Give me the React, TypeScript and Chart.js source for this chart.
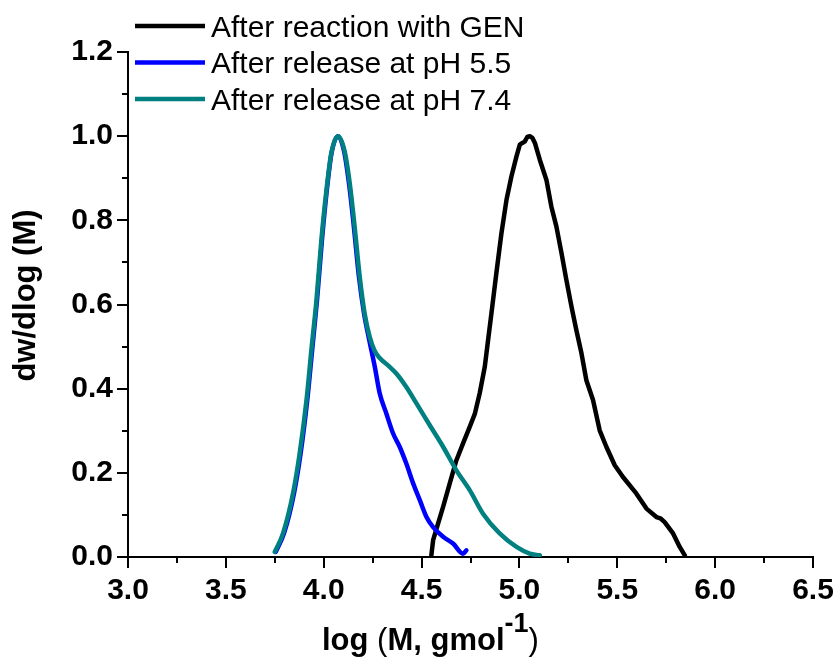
import React, { useEffect, useRef } from 'react';
import { Chart, registerables } from 'chart.js';

Chart.register(...registerables);

const FONT = "'Liberation Sans', Arial, Helvetica, sans-serif";

const seriesLabels = ['After reaction with GEN', 'After release at pH 5.5', 'After release at pH 7.4'];
const seriesColors = ['#000000', '#0000ff', '#008080'];

const xTickValues = [3.0, 3.5, 4.0, 4.5, 5.0, 5.5, 6.0, 6.5];
const yTickValues = [0.0, 0.2, 0.4, 0.6, 0.8, 1.0, 1.2];

const genX = [4.550, 4.559, 4.584, 4.610, 4.644, 4.678, 4.712, 4.746, 4.772, 4.797, 4.823, 4.840, 4.857, 4.882, 4.908, 4.934, 4.959, 4.985, 5.002, 5.015, 5.027, 5.040, 5.053, 5.066, 5.079, 5.104, 5.138, 5.163, 5.189, 5.215, 5.240, 5.266, 5.291, 5.317, 5.342, 5.376, 5.410, 5.444, 5.487, 5.529, 5.597, 5.649, 5.700, 5.720, 5.742, 5.785, 5.819, 5.845];
const genY = [0.004, 0.040, 0.079, 0.119, 0.175, 0.230, 0.270, 0.309, 0.340, 0.389, 0.452, 0.516, 0.579, 0.674, 0.769, 0.849, 0.904, 0.952, 0.980, 0.984, 0.987, 0.998, 1.000, 0.996, 0.984, 0.944, 0.896, 0.833, 0.785, 0.722, 0.658, 0.595, 0.539, 0.484, 0.420, 0.373, 0.301, 0.262, 0.218, 0.190, 0.151, 0.115, 0.095, 0.092, 0.083, 0.056, 0.024, 0.004];

const ph55X = [3.755, 3.797, 3.848, 3.882, 3.916, 3.941, 3.966, 3.991, 4.016, 4.040, 4.073, 4.104, 4.129, 4.154, 4.180, 4.206, 4.233, 4.261, 4.286, 4.320, 4.354, 4.388, 4.422, 4.457, 4.491, 4.525, 4.559, 4.610, 4.661, 4.712, 4.729];
const ph55Y = [0.012, 0.056, 0.151, 0.246, 0.373, 0.492, 0.611, 0.753, 0.872, 0.960, 1.000, 0.964, 0.888, 0.785, 0.666, 0.579, 0.515, 0.452, 0.389, 0.341, 0.294, 0.262, 0.222, 0.175, 0.135, 0.095, 0.071, 0.048, 0.032, 0.008, 0.016];

const ph74X = [3.750, 3.792, 3.843, 3.877, 3.912, 3.937, 3.963, 3.988, 4.014, 4.039, 4.073, 4.107, 4.133, 4.158, 4.184, 4.209, 4.235, 4.260, 4.286, 4.330, 4.371, 4.422, 4.474, 4.542, 4.610, 4.678, 4.746, 4.814, 4.899, 4.985, 5.053, 5.104];
const ph74Y = [0.012, 0.056, 0.151, 0.246, 0.373, 0.492, 0.611, 0.753, 0.872, 0.960, 1.000, 0.964, 0.888, 0.785, 0.666, 0.579, 0.523, 0.490, 0.473, 0.455, 0.436, 0.404, 0.365, 0.313, 0.262, 0.206, 0.159, 0.103, 0.056, 0.024, 0.008, 0.004];

const yTitle = 'dw/dlog (M)';

const toPoints = (xs: number[], ys: number[]) => xs.map((x, i) => ({ x, y: ys[i] }));

const decorPlugin = {
  id: 'decor',
  afterDraw(chart: any) {
    const ctx = chart.ctx as CanvasRenderingContext2D;
    const xs = chart.scales.x;
    const ys = chart.scales.y;
    const area = chart.chartArea;
    ctx.save();
    // minor ticks
    ctx.strokeStyle = '#000';
    ctx.lineWidth = 2;
    ctx.beginPath();
    for (let i = 0; i < xTickValues.length - 1; i++) {
      const v = (xTickValues[i] + xTickValues[i + 1]) / 2;
      const px = Math.round(xs.getPixelForValue(v));
      ctx.moveTo(px, area.bottom);
      ctx.lineTo(px, area.bottom + 6);
    }
    for (let i = 0; i < yTickValues.length - 1; i++) {
      const v = (yTickValues[i] + yTickValues[i + 1]) / 2;
      const py = Math.round(ys.getPixelForValue(v));
      ctx.moveTo(area.left, py);
      ctx.lineTo(area.left - 6, py);
    }
    ctx.stroke();

    // legend
    chart.data.datasets.forEach((ds: any, i: number) => {
      const ly = 26 + i * 36.5;
      ctx.strokeStyle = ds.borderColor;
      ctx.lineWidth = 4.5;
      ctx.beginPath();
      ctx.moveTo(135, ly);
      ctx.lineTo(205, ly);
      ctx.stroke();
      ctx.fillStyle = '#000';
      ctx.font = `30px ${FONT}`;
      ctx.textAlign = 'left';
      ctx.textBaseline = 'alphabetic';
      ctx.fillText(ds.label, 211, 36.5 + i * 36.5);
    });

    // y title
    ctx.save();
    ctx.translate(26, 295.5);
    ctx.rotate(-Math.PI / 2);
    ctx.font = `bold 31px ${FONT}`;
    ctx.textAlign = 'center';
    ctx.textBaseline = 'middle';
    ctx.fillStyle = '#000';
    ctx.fillText(yTitle, 0, 0);
    ctx.restore();

    // x title: log (M, gmol^-1)
    const parts: [string, string, number][] = [
      ['log ', `bold 31px ${FONT}`, 0],
      ['(', `31px ${FONT}`, 0],
      ['M, gmol', `bold 31px ${FONT}`, 0],
      ['-1', `bold 27px ${FONT}`, -18],
      [')', `31px ${FONT}`, 0],
    ];
    let cx = 322;
    const base = 650;
    ctx.textAlign = 'left';
    ctx.textBaseline = 'alphabetic';
    ctx.fillStyle = '#000';
    for (const [t, f, dy] of parts) {
      ctx.font = f;
      ctx.fillText(t, cx, base + dy);
      cx += ctx.measureText(t).width;
    }
    ctx.restore();
  },
};

export default function App() {
  const ref = useRef<HTMLCanvasElement>(null);
  useEffect(() => {
    if (!ref.current) return;
    const common = {
      showLine: true,
      pointRadius: 0,
      borderWidth: 4.5,
      fill: false,
      borderJoinStyle: 'round' as const,
      borderCapStyle: 'round' as const,
    };
    const chart = new Chart(ref.current, {
      type: 'scatter',
      data: {
        datasets: [
          { ...common, label: seriesLabels[0], data: toPoints(genX, genY), borderColor: seriesColors[0], backgroundColor: seriesColors[0], order: 2, tension: 0 },
          { ...common, label: seriesLabels[1], data: toPoints(ph55X, ph55Y), borderColor: seriesColors[1], backgroundColor: seriesColors[1], order: 1, cubicInterpolationMode: 'monotone' },
          { ...common, label: seriesLabels[2], data: toPoints(ph74X, ph74Y), borderColor: seriesColors[2], backgroundColor: seriesColors[2], order: 0, cubicInterpolationMode: 'monotone' },
        ],
      },
      options: {
        animation: false,
        responsive: false,
        layout: { padding: { top: 52, right: 26, left: 0, bottom: 0 } },
        plugins: { legend: { display: false }, tooltip: { enabled: false } },
        scales: {
          x: {
            type: 'linear',
            min: 3,
            max: 6.5,
            afterBuildTicks: (s: any) => { s.ticks = xTickValues.map((v) => ({ value: v })); },
            ticks: {
              callback: (v: any) => Number(v).toFixed(1),
              font: { family: FONT, size: 30, weight: 'bold' },
              color: '#000',
              padding: 5,
              maxRotation: 0,
              autoSkip: false,
            },
            grid: { drawOnChartArea: false, drawTicks: true, tickLength: 11, lineWidth: 2, color: '#000' },
            border: { display: true, color: '#000', width: 2 },
            afterFit: (s: any) => { s.height = 107; s.paddingLeft = 0; s.paddingRight = 0; },
          },
          y: {
            type: 'linear',
            min: 0,
            max: 1.2,
            afterBuildTicks: (s: any) => { s.ticks = yTickValues.map((v) => ({ value: v })); },
            ticks: {
              callback: (v: any) => Number(v).toFixed(1),
              font: { family: FONT, size: 30, weight: 'bold' },
              color: '#000',
              padding: 4,
              autoSkip: false,
            },
            grid: { drawOnChartArea: false, drawTicks: true, tickLength: 11, lineWidth: 2, color: '#000' },
            border: { display: true, color: '#000', width: 2 },
            afterFit: (s: any) => { s.width = 128; s.paddingTop = 0; s.paddingBottom = 0; },
          },
        },
      } as any,
      plugins: [decorPlugin],
    });
    return () => chart.destroy();
  }, []);
  return (
    <div style={{ position: 'absolute', left: 0, top: 0, width: 839, height: 664, background: '#fff' }}>
      <canvas ref={ref} width={839} height={664} style={{ display: 'block' }} />
    </div>
  );
}
